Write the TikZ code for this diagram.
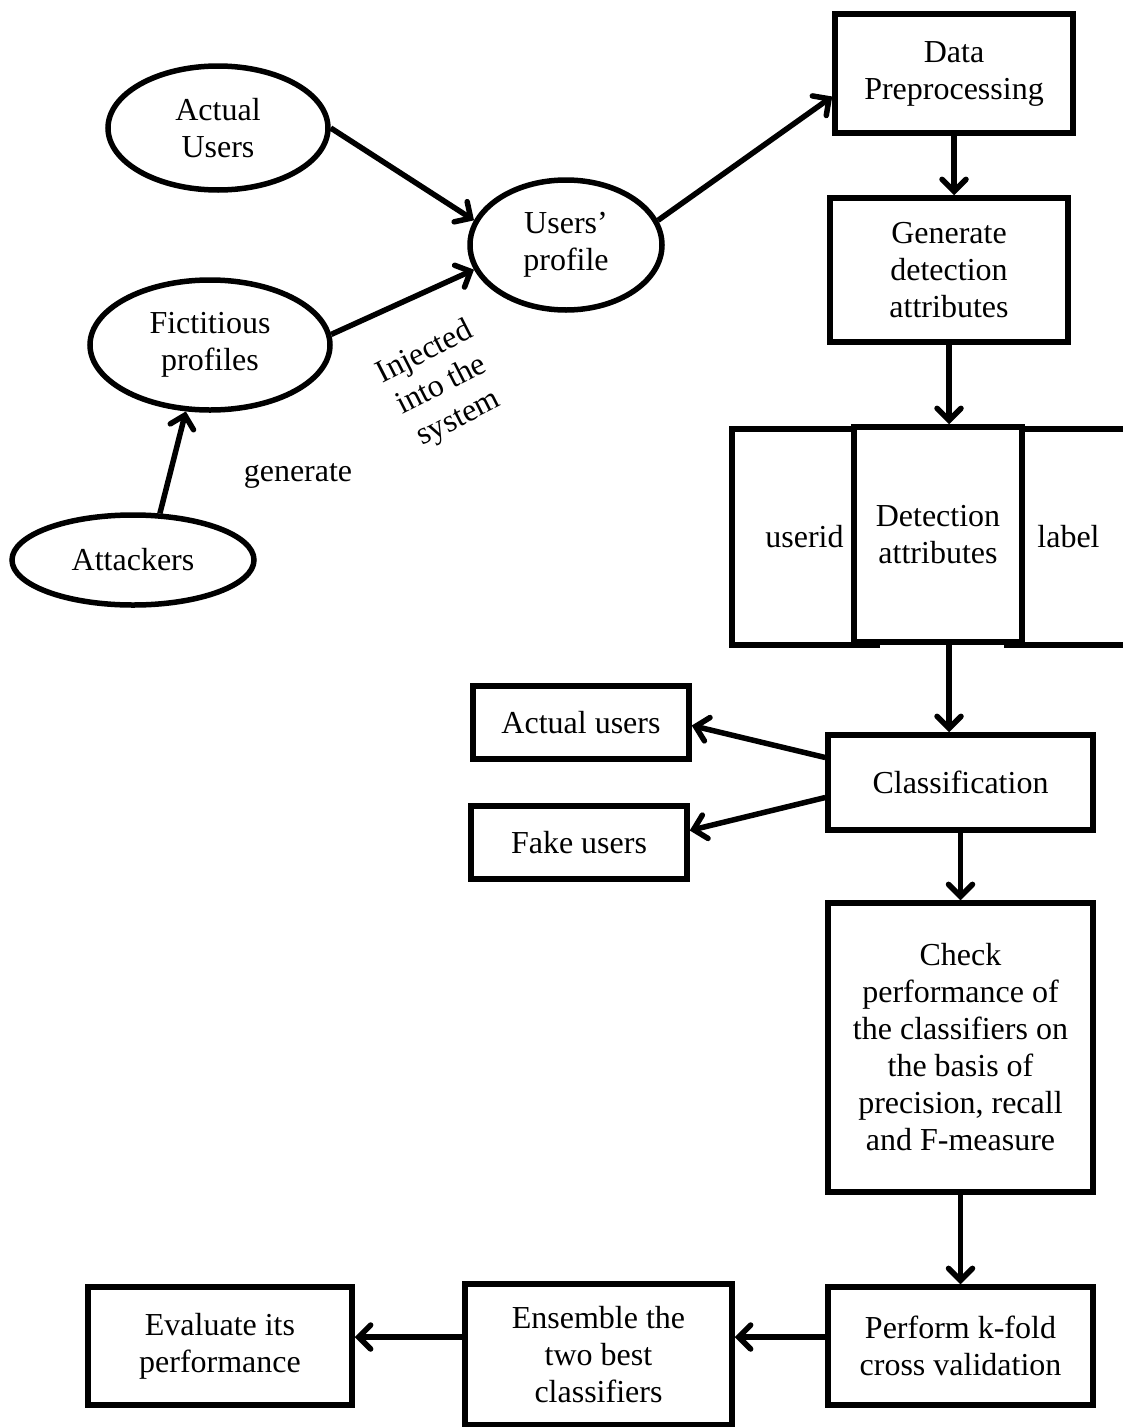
\documentclass[tikz,border=0pt]{standalone}
\usepackage{fontspec}
\setmainfont{Liberation Serif}
\usetikzlibrary{shapes.geometric,arrows.meta,calc}
\begin{document}
\begin{tikzpicture}[x=1pt,y=-1pt,
  font=\fontsize{32}{37}\selectfont,
  oval/.style={ellipse, draw, line width=5.5pt, inner sep=0pt, align=center},
  box/.style={rectangle, draw, line width=5.5pt, inner sep=0pt, align=center},
  link/.style={-{Straight Barb[length=12pt,width=24pt,line cap=round]}, line width=5.5pt},
  tag/.style={inner sep=0pt, align=center}]
\useasboundingbox (0,0) rectangle (1123,1427);

% input side: users, attackers and their profiles
\node[oval, minimum width=220, minimum height=124] (actual) at (218,128) {Actual\\Users};
\node[oval, minimum width=240, minimum height=130] (fict) at (210,345) {Fictitious\\profiles};
\node[oval, minimum width=242, minimum height=90] (att) at (133,560) {Attackers};
\node[oval, minimum width=192, minimum height=130] (prof) at (566,245) {Users’\\profile};

% processing pipeline
\node[box, minimum width=238, minimum height=119] (pre) at (954,73.5) {Data\\Preprocessing};
\node[box, minimum width=238, minimum height=144] (gen) at (949,270) {Generate\\detection\\attributes};

% record layout: userid | attributes | label
\node[box, minimum width=145, minimum height=216] (uid) at (804.5,537) {userid};
\node[box, minimum width=123, minimum height=216] (lab) at (1068.5,537) {label};
\node[box, fill=white, minimum width=168, minimum height=215] (det) at (938,534.5) {Detection\\attributes};

\node[box, minimum width=265, minimum height=95] (cls) at (960.5,782.5) {Classification};
\node[box, minimum width=216, minimum height=73] (au) at (581,722.5) {Actual users};
\node[box, minimum width=216, minimum height=73] (fu) at (579,842.5) {Fake users};
\node[box, minimum width=265, minimum height=289] (chk) at (960.5,1047.5)
  {Check\\performance of\\the classifiers on\\the basis of\\precision, recall\\and F-measure};
\node[box, minimum width=265, minimum height=118] (kf) at (960.5,1346) {Perform k-fold\\cross validation};
\node[box, minimum width=267, minimum height=141] (ens) at (598.5,1354.5) {Ensemble the\\two best\\classifiers};
\node[box, minimum width=264, minimum height=118] (ev) at (220,1346) {Evaluate its\\performance};

% edge labels
\node[tag] (gl) at (298,476) {generate};
\node[tag, rotate=27] (inj) at (442,386) {Injected\\into the\\system};

% connectors
\draw[link] (actual.east) -- (prof.165);
\draw[link] (fict.5) -- (prof.195);
\draw[link] (att.60) -- (fict.250);
\coordinate (preIn) at ($(pre.west)+(0,23)$);
\draw[link] (prof.15) -- (preIn);
\draw[link] (pre.south) -- (pre.south |- gen.north);
\draw[link] (gen.south) -- (gen.south |- det.north);
\draw[link] (det.south -| gen.south) -- (gen.south |- cls.north);
\coordinate (c1) at ($(cls.west)+(0,-25)$);
\coordinate (c2) at ($(cls.west)+(0,15)$);
\coordinate (auIn) at ($(au.east)+(0,3)$);
\coordinate (fuIn) at ($(fu.east)+(0,-12)$);
\draw[link] (c1) -- (auIn);
\draw[link] (c2) -- (fuIn);
\draw[link] (cls.south) -- (chk.north);
\draw[link] (chk.south) -- (kf.north);
\coordinate (k1) at ($(kf.west)+(0,-9)$);
\draw[link] (k1) -- (ens.east |- k1);
\draw[link] (ens.west |- k1) -- (ev.east |- k1);
\end{tikzpicture}
\end{document}
